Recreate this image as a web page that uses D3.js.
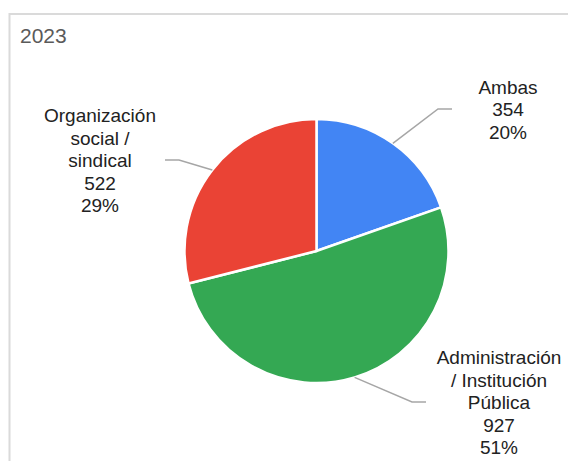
<!DOCTYPE html>
<html>
<head>
<meta charset="utf-8">
<script src="https://cdn.jsdelivr.net/npm/d3@7"></script>
<style>
  body { margin: 0; background: #fff; }
  svg { display: block; font-family: "Liberation Sans", Arial, sans-serif; }
</style>
</head>
<body>
<div id="chart"></div>
<script>
// Data
const categories = ["Ambas", "Administración / Institución Pública", "Organización social / sindical"];
const labelLines = [["Ambas"], ["Administración", "/ Institución", "Pública"], ["Organización", "social /", "sindical"]];
const values = [354, 927, 522];
const colors = ["#4285F4", "#34A853", "#EA4335"];

// Layout for the outside labels (end of leader line, text centre)
const labelLayout = [
  { ex: 452, ey: 109, tx: 508, side: 1 },
  { ex: 426, ey: 402, tx: 499, side: 1 },
  { ex: 165, ey: 160, tx: 100, side: -1 }
];

const width = 568, height = 461;
const cx = 316.5, cy = 251, radius = 132;
const lineH = 22.5;

const svg = d3.select("#chart").append("svg")
    .attr("width", width)
    .attr("height", height);

// Frame
svg.append("rect")
    .attr("x", 9.5)
    .attr("y", 14)
    .attr("width", width + 20)
    .attr("height", height + 20)
    .attr("fill", "none")
    .attr("stroke", "#dadada")
    .attr("stroke-width", 2);

svg.append("text")
    .attr("x", 20)
    .attr("y", 42.5)
    .attr("font-size", 21)
    .attr("fill", "#5a5a5a")
    .text("2023");

const total = d3.sum(values);
const pie = d3.pie().sort(null).value(d => d);
const arcs = pie(values);
const arc = d3.arc().innerRadius(0).outerRadius(radius);

const g = svg.append("g").attr("transform", `translate(${cx},${cy})`);

g.selectAll("path")
    .data(arcs)
    .enter()
    .append("path")
    .attr("d", arc)
    .attr("fill", (d, i) => colors[i])
    .attr("stroke", "#fff")
    .attr("stroke-width", 2.5);

// Leader lines and labels
arcs.forEach((d, i) => {
  const mid = (d.startAngle + d.endAngle) / 2;
  const sx = cx + radius * Math.sin(mid);
  const sy = cy - radius * Math.cos(mid);
  const L = labelLayout[i];
  const elbowX = L.ex - L.side * 14;
  svg.append("polyline")
      .attr("points", [[sx, sy], [elbowX, L.ey], [L.ex, L.ey]].map(p => p.join(",")).join(" "))
      .attr("fill", "none")
      .attr("stroke", "#a6a6a6")
      .attr("stroke-width", 1.5);

  const lines = labelLines[i].concat([String(values[i]), Math.round(values[i] / total * 100) + "%"]);
  const t = svg.append("text")
      .attr("text-anchor", "middle")
      .attr("font-size", 19)
      .attr("fill", "#222");
  lines.forEach((s, j) => {
    t.append("tspan")
        .attr("x", L.tx)
        .attr("y", L.ey + (j - (lines.length - 1) / 2) * lineH + 7)
        .text(s);
  });
});
</script>
</body>
</html>
